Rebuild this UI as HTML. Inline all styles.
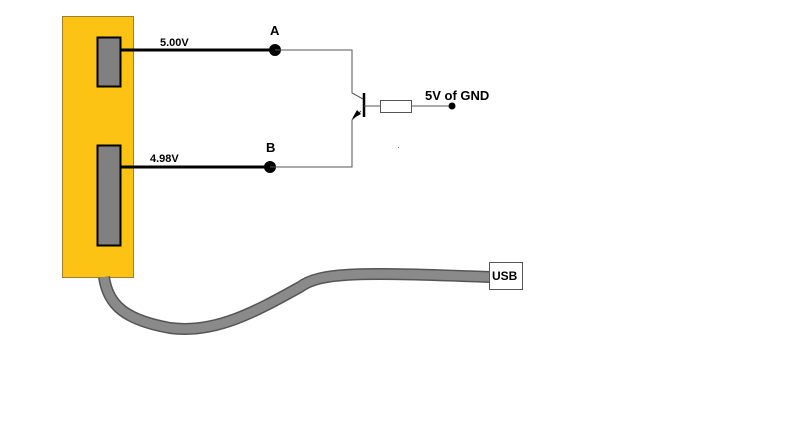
<!DOCTYPE html>
<html><head><style>body{margin:0;background:#fff}</style></head><body>
<svg width="800" height="436" viewBox="0 0 800 436" xmlns="http://www.w3.org/2000/svg" font-family="Liberation Sans, sans-serif" font-weight="bold">
<rect x="62.5" y="16.5" width="71" height="261" fill="#fdc314" stroke="#a08030"/>
<rect x="97.5" y="37.5" width="23" height="49" fill="#808080" stroke="#000" stroke-width="2"/>
<rect x="97.5" y="145.5" width="23" height="100" fill="#808080" stroke="#000" stroke-width="2"/>
<path d="M104 277 C108 305 125 320 170 328 C215 334 255 312 300 287 C320 272 360 272 490 277" fill="none" stroke="#555" stroke-width="12"/>
<path d="M104 277 C108 305 125 320 170 328 C215 334 255 312 300 287 C320 272 360 272 490 277" fill="none" stroke="#8a8a8a" stroke-width="9"/>
<rect x="489.5" y="262.5" width="33" height="27" fill="#fff" stroke="#555"/>
<text x="492" y="280" font-size="12">USB</text>
<line x1="120" y1="50" x2="275" y2="50" stroke="#000" stroke-width="3"/>
<line x1="120" y1="167" x2="270" y2="167" stroke="#000" stroke-width="3"/>
<circle cx="275" cy="50" r="6"/>
<circle cx="270" cy="167" r="6"/>
<text x="160" y="46" font-size="11">5.00V</text>
<text x="150" y="162" font-size="11">4.98V</text>
<text x="270" y="35" font-size="13">A</text>
<text x="266" y="152" font-size="13">B</text>
<polyline points="275,50 352,50 352,93 363,99" fill="none" stroke="#555"/>
<polyline points="270,167 352,167 352,120 361,111" fill="none" stroke="#555"/>
<polygon points="352,119 357,110 361,114" fill="#000"/>
<line x1="364" y1="93" x2="364" y2="117" stroke="#000" stroke-width="2.5"/>
<line x1="364" y1="106" x2="380" y2="106" stroke="#555"/>
<rect x="380.5" y="100.5" width="31" height="12" fill="#fff" stroke="#555"/>
<line x1="411" y1="106" x2="452" y2="106" stroke="#555"/>
<circle cx="452" cy="106" r="3.5"/>
<text x="425" y="100" font-size="13">5V of GND</text>
<rect x="398" y="147" width="1" height="1" fill="#888"/>
</svg>
</body></html>
